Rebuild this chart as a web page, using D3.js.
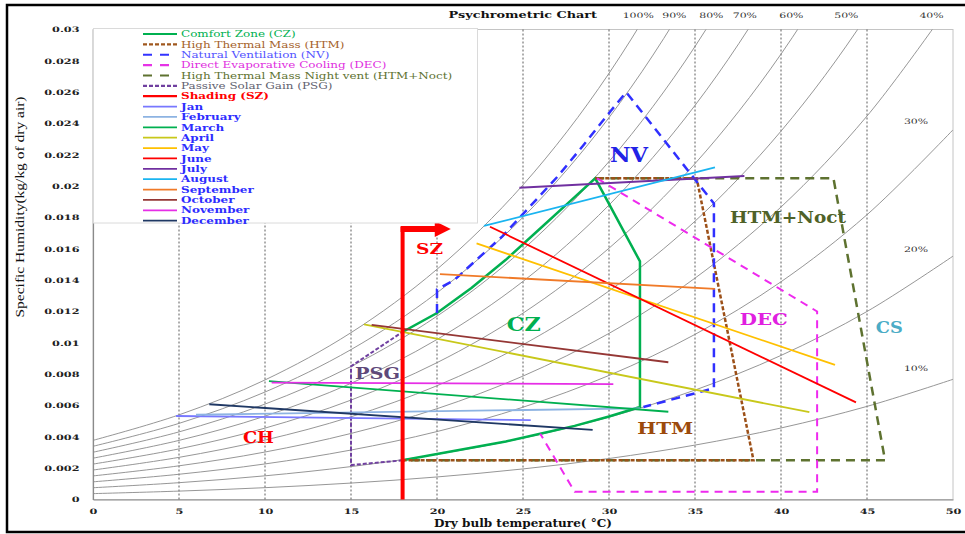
<!DOCTYPE html>
<html>
<head>
<meta charset="utf-8">
<script src="https://cdn.jsdelivr.net/npm/d3@7"></script>
<style>
  body { margin: 0; background: #fff; }
  svg { display: block; }
</style>
</head>
<body>
<div id="chart"></div>
<script>
// ---- data ----
const xTicks = [0, 5, 10, 15, 20, 25, 30, 35, 40, 45, 50];
const gridTemps = [5, 10, 15, 20, 25, 30, 35, 40, 45];
const yTicks = [0, 0.002, 0.004, 0.006, 0.008, 0.01, 0.012, 0.014, 0.016, 0.018, 0.02, 0.022, 0.024, 0.026, 0.028, 0.03];
const yTickLabels = ["0", "0.002", "0.004", "0.006", "0.008", "0.01", "0.012", "0.014", "0.016", "0.018", "0.02", "0.022", "0.024", "0.026", "0.028", "0.03"];

// relative humidity curves: specific humidity at each temperature
const rhLevels = [100, 90, 80, 70, 60, 50, 40, 30, 20, 10];
const rhTemps = [0, 5, 10, 15, 20, 25, 30, 35, 40, 45, 50];
const rhTable = [
  [0.003775, 0.005403, 0.007631, 0.010649, 0.014696, 0.020081, 0.027202, 0.036571, 0.048873, 0.065023, 0.086287],
  [0.003396, 0.004859, 0.006860, 0.009568, 0.013195, 0.018015, 0.024375, 0.032722, 0.043642, 0.057915, 0.076597],
  [0.003017, 0.004315, 0.006090, 0.008490, 0.011702, 0.015962, 0.021572, 0.028917, 0.038493, 0.050952, 0.067166],
  [0.002638, 0.003772, 0.005322, 0.007416, 0.010215, 0.013922, 0.018794, 0.025156, 0.033423, 0.044132, 0.057989],
  [0.002260, 0.003231, 0.004557, 0.006346, 0.008735, 0.011895, 0.016040, 0.021439, 0.028430, 0.037448, 0.049051],
  [0.001882, 0.002690, 0.003792, 0.005279, 0.007262, 0.009881, 0.013310, 0.017763, 0.023512, 0.030897, 0.040345],
  [0.001505, 0.002150, 0.003030, 0.004216, 0.005796, 0.007880, 0.010603, 0.014130, 0.018669, 0.024474, 0.031863],
  [0.001128, 0.001611, 0.002270, 0.003157, 0.004337, 0.005891, 0.007918, 0.010538, 0.013897, 0.018177, 0.023595],
  [0.000751, 0.001073, 0.001511, 0.002101, 0.002885, 0.003915, 0.005256, 0.006986, 0.009196, 0.012001, 0.015534],
  [0.000375, 0.000536, 0.000755, 0.001049, 0.001439, 0.001951, 0.002617, 0.003473, 0.004564, 0.005943, 0.007671]
];
const rhTopLabels = ["100%", "90%", "80%", "70%", "60%", "50%", "40%"];
const rhTopLabelT = [31.7, 33.8, 35.95, 37.9, 40.6, 43.8, 48.75];
const rhSideLabels = ["30%", "20%", "10%"];
const rhSideLabelW = [0.02416, 0.01601, 0.00837];

// design-strategy zones [temperature, specific humidity]
const czBoundary = [[18, 0.0025], [20, 0.0029], [22, 0.0033], [24, 0.0037], [26, 0.0042], [28, 0.0047], [30, 0.0053], [31.8, 0.0059],
  [31.8, 0.0152], [29.2, 0.0205], [28, 0.0193], [26, 0.0173], [24, 0.0153], [22, 0.0135], [20, 0.0119], [18, 0.0107], [18, 0.0025]];
const htmBoundary = [[18, 0.0025], [38.4, 0.0025], [35.1, 0.0205], [29.2, 0.0205]];
const nvBoundary = [[20, 0.0119], [20, 0.0134], [21, 0.0140], [22.3, 0.0153], [23.8, 0.0168], [25.4, 0.0187], [27, 0.0206],
  [28.5, 0.0226], [30.1, 0.0248], [31, 0.026], [36.1, 0.0189], [36.1, 0.0071], [32, 0.0059]];
const decBoundary = [[29.3, 0.0205], [42.1, 0.012], [42.1, 0.0005], [28, 0.0005], [26, 0.0042]];
const noctBoundary = [[29.2, 0.0205], [43.05, 0.0205], [46.05, 0.0025], [18, 0.0025]];
const psgBoundary = [[18, 0.0025], [15, 0.0022], [15, 0.0085], [18, 0.0107]];
const szLine = [[18, 0], [18, 0.0174]];
const szArrow = [18, 20.8, 0.01727];

// monthly lines: (T1, w1) -> (T2, w2)
const months = ["Jan", "February", "March", "April", "May", "June", "July", "August", "September", "October", "November", "December"];
const monthT1 = [4.83, 5.99, 10.23, 15.76, 22.3, 23.08, 24.79, 22.73, 20.17, 16.2, 10.39, 6.76];
const monthW1 = [0.00533, 0.00541, 0.00756, 0.01118, 0.01635, 0.01741, 0.0199, 0.01746, 0.01439, 0.01114, 0.00746, 0.00608];
const monthT2 = [25.45, 31.8, 33.45, 41.65, 43.14, 44.36, 37.87, 36.16, 36.16, 33.45, 30.25, 29.05];
const monthW2 = [0.00507, 0.00582, 0.0056, 0.00557, 0.00859, 0.0062, 0.02065, 0.0212, 0.01344, 0.00876, 0.00737, 0.00444];
const monthColors = ["#7878ff", "#8db3e2", "#00b050", "#c8c81a", "#ffc000", "#ff0000", "#7030a0", "#1ab4f0", "#f07a28", "#953735", "#e62ee6", "#1f3864"];

// zone labels
const zoneLabels = ["NV", "SZ", "CZ", "PSG", "CH", "HTM", "HTM+Noct", "DEC", "CS"];
const zoneLabelT = [31.16, 19.57, 25.05, 16.54, 9.62, 33.27, 40.41, 39.0, 46.3];
const zoneLabelW = [0.02156, 0.01567, 0.01077, 0.00767, 0.00359, 0.00418, 0.01763, 0.01114, 0.01061];
const zoneLabelColors = ["#2222e6", "#ff0000", "#00b050", "#5f497a", "#ff0000", "#9c4a0c", "#4f6228", "#e020e0", "#4bacc6"];

// legend
const legendZoneNames = ["Comfort Zone (CZ)", "High Thermal Mass (HTM)", "Natural Ventilation (NV)", "Direct Evaporative Cooling (DEC)",
  "High Thermal Mass Night vent (HTM+Noct)", "Passive Solar Gain (PSG)", "Shading (SZ)"];
const legendZoneColors = ["#00b050", "#a0581e", "#3333ff", "#e633e6", "#5e7230", "#7040a0", "#ff0000"];
const legendZoneTextColors = ["#00b050", "#a5622a", "#5353ff", "#e02ee0", "#5e7230", "#5f5f6f", "#ff0000"];
const legendZoneDash = [null, "4,2", "9,8", "9,8", "9,8", "4,2", null];

// ---- drawing ----
const width = 965, height = 534;
const plotLeft = 93, plotRight = 953, plotTop = 29.5, plotBottom = 499.5;

const svg = d3.select("#chart").append("svg")
  .attr("width", width)
  .attr("height", height)
  .style("font-family", "'DejaVu Serif', serif");

const x = d3.scaleLinear().domain([0, 50]).range([plotLeft, plotRight]);
const y = d3.scaleLinear().domain([0, 0.03]).range([plotBottom, plotTop]);

// stretch text sideways, the picture is wider than tall
function widen(sel, k) {
  sel.each(function() {
    const n = this.getComputedTextLength();
    d3.select(this).attr("textLength", n * k).attr("lengthAdjust", "spacingAndGlyphs");
  });
}

svg.append("defs").append("clipPath").attr("id", "plot-clip")
  .append("rect").attr("x", plotLeft).attr("y", plotTop)
  .attr("width", plotRight - plotLeft).attr("height", plotBottom - plotTop);

// outer frame
svg.append("rect")
  .attr("x", 7).attr("y", 5).attr("width", 1000).attr("height", 527)
  .attr("fill", "none").attr("stroke", "#000").attr("stroke-width", 2.5);

// plot border
svg.append("rect")
  .attr("x", plotLeft).attr("y", plotTop).attr("width", plotRight - plotLeft).attr("height", plotBottom - plotTop)
  .attr("fill", "none").attr("stroke", "#c4c4c4");

// dotted verticals
svg.append("g").selectAll("line").data(gridTemps).join("line")
  .attr("x1", d => x(d)).attr("x2", d => x(d))
  .attr("y1", y(0)).attr("y2", y(0.03))
  .attr("stroke", "#333").attr("stroke-width", 0.8).attr("stroke-dasharray", "2,2");

// RH curves
const rhLine = d3.line().x(d => x(d[0])).y(d => y(d[1])).curve(d3.curveCatmullRom);
svg.append("g").attr("clip-path", "url(#plot-clip)")
  .selectAll("path").data(rhTable).join("path")
  .attr("d", row => rhLine(row.map((w, i) => [rhTemps[i], w])))
  .attr("fill", "none").attr("stroke", "#8a8a8a").attr("stroke-width", 0.9);

// axes
const xAxis = svg.append("g").attr("transform", `translate(0,${plotBottom})`)
  .call(d3.axisBottom(x).tickValues(xTicks).tickSize(0).tickPadding(9));
const yAxis = svg.append("g").attr("transform", `translate(${plotLeft},0)`)
  .call(d3.axisLeft(y).tickValues(yTicks).tickFormat((d, i) => yTickLabels[i]).tickSize(0).tickPadding(13.5));
[xAxis, yAxis].forEach(a => {
  a.select(".domain").attr("stroke", "#8a8a8a").attr("stroke-width", 1.2);
  a.selectAll("text").attr("font-family", "'DejaVu Serif', serif").attr("font-weight", "bold")
    .attr("font-size", 7.5).attr("fill", "#222");
  widen(a.selectAll("text"), 1.5);
});

// zones
const zoneLine = d3.line().x(d => x(d[0])).y(d => y(d[1]));
const zoneLayer = svg.append("g").attr("fill", "none");
zoneLayer.append("path").attr("d", zoneLine(czBoundary)).attr("stroke", "#00b050").attr("stroke-width", 2.5);
zoneLayer.append("path").attr("d", zoneLine(noctBoundary)).attr("stroke", "#5e7230").attr("stroke-width", 2.5).attr("stroke-dasharray", "9,6");
zoneLayer.append("path").attr("d", zoneLine(htmBoundary)).attr("stroke", "#9c5018").attr("stroke-width", 2.5).attr("stroke-dasharray", "4,2");
zoneLayer.append("path").attr("d", zoneLine(nvBoundary)).attr("stroke", "#3030ff").attr("stroke-width", 2.5).attr("stroke-dasharray", "9,6");
zoneLayer.append("path").attr("d", zoneLine(decBoundary)).attr("stroke", "#ee2aee").attr("stroke-width", 2).attr("stroke-dasharray", "8,6");
zoneLayer.append("path").attr("d", zoneLine(psgBoundary)).attr("stroke", "#7040a0").attr("stroke-width", 2).attr("stroke-dasharray", "4,2");

// monthly lines
svg.append("g").selectAll("line").data(months).join("line")
  .attr("x1", (d, i) => x(monthT1[i])).attr("y1", (d, i) => y(monthW1[i]))
  .attr("x2", (d, i) => x(monthT2[i])).attr("y2", (d, i) => y(monthW2[i]))
  .attr("stroke", (d, i) => monthColors[i]).attr("stroke-width", 1.8);

// shading line and arrow
const sz = svg.append("g");
sz.append("line")
  .attr("x1", x(szLine[0][0])).attr("y1", y(szLine[0][1]))
  .attr("x2", x(szLine[1][0])).attr("y2", y(szLine[1][1]))
  .attr("stroke", "#ff0000").attr("stroke-width", 4);
const ay = y(szArrow[2]);
sz.append("line")
  .attr("x1", x(szArrow[0]) - 2).attr("x2", x(szArrow[1]) - 14)
  .attr("y1", ay).attr("y2", ay)
  .attr("stroke", "#ff0000").attr("stroke-width", 6);
sz.append("path")
  .attr("d", `M${x(szArrow[1]) - 16},${ay - 8}L${x(szArrow[1])},${ay}L${x(szArrow[1]) - 16},${ay + 8}Z`)
  .attr("fill", "#ff0000");

// zone labels
const labelSizes = [20, 15, 19, 16, 16, 17, 16, 17, 16];
const labelWidths = [38, 27, 34, 45, 31, 56, 116, 48, 27];
svg.append("g").selectAll("text").data(zoneLabels).join("text")
  .attr("x", (d, i) => x(zoneLabelT[i]))
  .attr("y", (d, i) => y(zoneLabelW[i]))
  .attr("text-anchor", "middle")
  .attr("font-weight", "bold")
  .attr("font-size", (d, i) => labelSizes[i])
  .attr("fill", (d, i) => zoneLabelColors[i])
  .attr("textLength", (d, i) => labelWidths[i])
  .attr("lengthAdjust", "spacingAndGlyphs")
  .text(d => d);

// RH labels
const rhTop = svg.append("g").selectAll("text").data(rhTopLabels).join("text")
  .attr("x", (d, i) => x(rhTopLabelT[i])).attr("y", 17.5)
  .attr("text-anchor", "middle").attr("font-size", 7.5).attr("fill", "#333")
  .text(d => d);
widen(rhTop, 1.45);
const rhSide = svg.append("g").selectAll("text").data(rhSideLabels).join("text")
  .attr("x", x(47.85)).attr("y", (d, i) => y(rhSideLabelW[i]) + 3)
  .attr("text-anchor", "middle").attr("font-size", 7.5).attr("fill", "#333")
  .text(d => d);
widen(rhSide, 1.45);

// titles
const title = svg.append("text")
  .attr("x", 522.7).attr("y", 17.5).attr("text-anchor", "middle")
  .attr("font-weight", "bold").attr("font-size", 10).attr("fill", "#111")
  .text("Psychrometric Chart");
widen(title, 1.28);

svg.append("text")
  .attr("x", 523).attr("y", 527).attr("text-anchor", "middle")
  .attr("font-weight", "bold").attr("font-size", 10.5).attr("fill", "#111")
  .attr("textLength", 178).attr("lengthAdjust", "spacingAndGlyphs")
  .text("Dry bulb temperature( °C)");

svg.append("text")
  .attr("transform", "translate(24,207) rotate(-90)")
  .attr("text-anchor", "middle")
  .attr("font-family", "'Liberation Serif', serif")
  .attr("font-size", 13).attr("fill", "#111")
  .attr("textLength", 221).attr("lengthAdjust", "spacingAndGlyphs")
  .text("Specific Humidity(kg/kg of dry air)");

// legend
const legend = svg.append("g");
legend.append("rect")
  .attr("x", plotLeft + 0.5).attr("y", 28.5).attr("width", 477 - plotLeft).attr("height", 194.5)
  .attr("fill", "#fff").attr("stroke", "#dadada");
const rowY = i => 34 + i * 10.37;
const legendRows = legendZoneNames.map((name, i) => ({
  name, color: legendZoneColors[i], text: legendZoneTextColors[i], dash: legendZoneDash[i], bold: name === "Shading (SZ)"
})).concat(months.map((m, i) => ({ name: m, color: monthColors[i], text: "#2d2dff", dash: null, bold: true })));

legend.selectAll("line").data(legendRows).join("line")
  .attr("x1", 143).attr("x2", 177)
  .attr("y1", (d, i) => rowY(i)).attr("y2", (d, i) => rowY(i))
  .attr("stroke", d => d.color)
  .attr("stroke-width", (d, i) => i < 7 ? 2.2 : 1.8)
  .attr("stroke-dasharray", d => d.dash);
const legendText = legend.selectAll("text").data(legendRows).join("text")
  .attr("x", 181).attr("y", (d, i) => rowY(i) + 3.2)
  .attr("font-size", 8.8)
  .attr("font-weight", d => d.bold ? "bold" : "normal")
  .attr("fill", d => d.text)
  .text(d => d.name);
widen(legendText, 1.36);
</script>
</body>
</html>
